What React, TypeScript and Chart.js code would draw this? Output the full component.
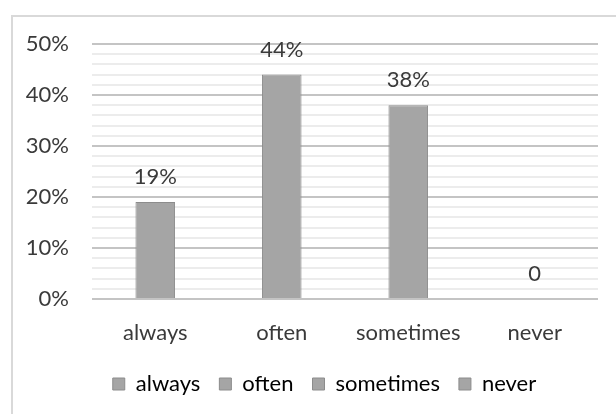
import React, { useEffect, useRef } from "react";
import { Chart, registerables } from "chart.js";

Chart.register(...registerables);

// Share of answers per frequency category (percent)
const categories: string[] = ["always", "often", "sometimes", "never"];
const shares: number[] = [19, 44, 38, 0];
const yMax = 50;
const yStep = 2;

const FONT = "Lato, 'Open Sans', sans-serif";
const FONT_SIZE = 22;
const TEXT = "#3a3a3a";
const BAR_FILL = "#a5a5a5";
const BAR_EDGE = "#8c8c8c";

const formatShare = (v: number) => (v === 0 ? "0" : `${v}%`);

// Outer chart frame (top and left edges)
const framePlugin = {
  id: "frame",
  beforeDraw(chart: Chart) {
    const ctx = chart.ctx;
    ctx.save();
    ctx.fillStyle = "#ffffff";
    ctx.fillRect(0, 0, chart.width, chart.height);
    ctx.strokeStyle = "#d9d9d9";
    ctx.lineWidth = 2;
    ctx.beginPath();
    ctx.moveTo(chart.width + 2, 16);
    ctx.lineTo(12, 16);
    ctx.lineTo(12, chart.height + 2);
    ctx.stroke();
    ctx.restore();
  },
};

// Value labels above each bar
const valueLabelPlugin = {
  id: "valueLabels",
  afterDatasetsDraw(chart: Chart) {
    const ctx = chart.ctx;
    const meta = chart.getDatasetMeta(0);
    ctx.save();
    ctx.font = `${FONT_SIZE}px ${FONT}`;
    ctx.fillStyle = TEXT;
    ctx.textAlign = "center";
    ctx.textBaseline = "middle";
    meta.data.forEach((el: any, i: number) => {
      ctx.fillText(formatShare(shares[i]), el.x, el.y - 25);
    });
    ctx.restore();
  },
};

export default function App() {
  const ref = useRef<HTMLCanvasElement | null>(null);

  useEffect(() => {
    if (!ref.current) return;
    const chart = new Chart(ref.current, {
      type: "bar",
      data: {
        labels: categories,
        datasets: [
          {
            data: shares,
            backgroundColor: BAR_FILL,
            borderColor: BAR_EDGE,
            borderWidth: 1,
            categoryPercentage: 1,
            barPercentage: 0.313,
          },
        ],
      },
      plugins: [framePlugin, valueLabelPlugin],
      options: {
        responsive: false,
        animation: false,
        devicePixelRatio: 1,
        // the frame runs past the right edge, so the legend centres on the wider box
        layout: { padding: { left: 20, right: -13, top: 44, bottom: 9 } },
        plugins: {
          tooltip: { enabled: false },
          legend: {
            display: true,
            position: "bottom",
            labels: {
              boxWidth: 12,
              boxHeight: 12,
              padding: 19,
              color: TEXT,
              font: { family: FONT, size: FONT_SIZE },
              generateLabels: () =>
                categories.map((c, i) => ({
                  text: c,
                  fillStyle: BAR_FILL,
                  strokeStyle: BAR_EDGE,
                  lineWidth: 1,
                  hidden: false,
                  index: i,
                  datasetIndex: 0,
                })),
            },
          },
        },
        scales: {
          x: {
            grid: { display: false, drawTicks: false },
            border: { display: false },
            ticks: {
              color: TEXT,
              font: { family: FONT, size: FONT_SIZE },
              padding: 21,
            },
            afterFit(scale: any) {
              scale.height = 55;
            },
          },
          y: {
            min: 0,
            max: yMax,
            grid: {
              drawTicks: false,
              lineWidth: 2,
              color: (ctx: any) =>
                ctx.tick && Math.round(ctx.tick.value) % 10 === 0 ? "#c4c4c4" : "#ececec",
            },
            border: { display: false },
            ticks: {
              stepSize: yStep,
              autoSkip: false,
              color: TEXT,
              font: { family: FONT, size: FONT_SIZE },
              padding: 23,
              callback: (v: any) => (Math.round(Number(v)) % 10 === 0 ? `${Math.round(Number(v))}%` : ""),
            },
            afterFit(scale: any) {
              scale.width = 72;
            },
          },
          // empty right-hand margin between the plot and the frame edge
          margin: {
            type: "linear",
            position: "right",
            display: true,
            grid: { display: false, drawTicks: false },
            border: { display: false },
            ticks: { display: false },
            afterFit(scale: any) {
              scale.width = 31;
            },
          },
        },
      },
    });
    return () => chart.destroy();
  }, []);

  return (
    <div style={{ position: "absolute", left: 0, top: 0, width: 616, height: 414 }}>
      <canvas ref={ref} width={616} height={414} />
    </div>
  );
}
